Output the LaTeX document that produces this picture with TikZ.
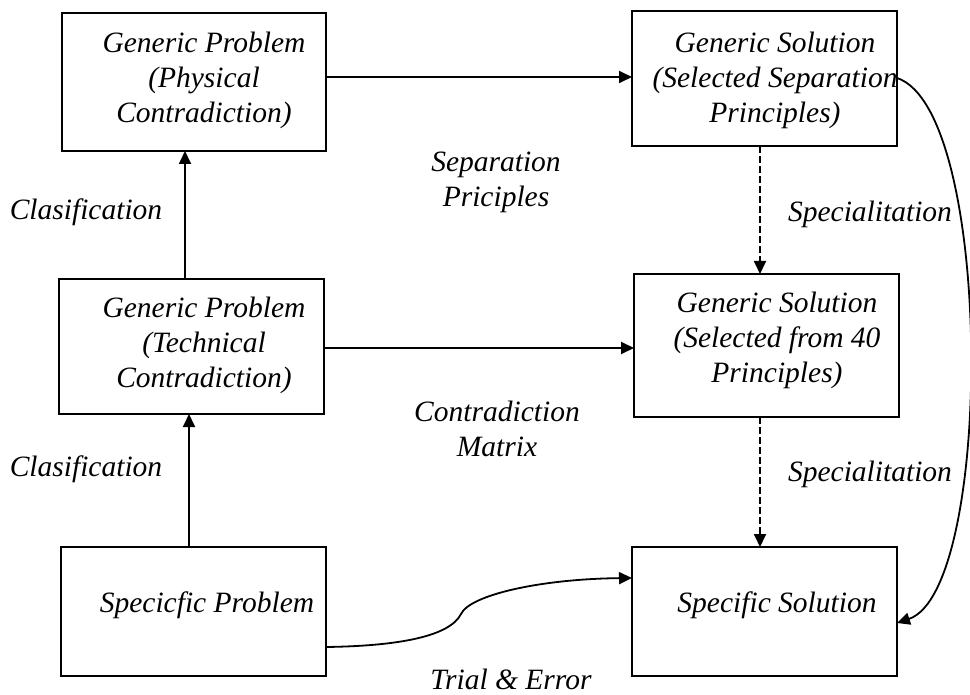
\documentclass[tikz,border=0pt]{standalone}
\usepackage{fontspec}
\setmainfont{Liberation Serif}
\usetikzlibrary{arrows.meta}
\begin{document}
\begin{tikzpicture}[x=1pt,y=-1pt,
  box/.style={draw, line width=2pt, rectangle, inner sep=0pt, outer sep=0pt},
  txt/.style={font=\fontsize{29.5pt}{35pt}\selectfont\itshape, align=center, inner sep=0pt},
  arr/.style={line width=1.8pt, -{Triangle[length=13pt,width=12pt]}},
  darr/.style={arr, dash pattern=on 7pt off 3pt}]
\useasboundingbox (0,0) rectangle (970,695);
% boxes
\node[box, minimum width=264pt, minimum height=138pt] (b1) at (194,82) {};
\node[box, minimum width=265pt, minimum height=135pt] (b2) at (764.5,78.5) {};
\node[box, minimum width=265pt, minimum height=135pt] (b3) at (191.5,346.5) {};
\node[box, minimum width=265pt, minimum height=143pt] (b4) at (766.5,345.5) {};
\node[box, minimum width=265pt, minimum height=129pt] (b5) at (193.5,611.5) {};
\node[box, minimum width=265pt, minimum height=129pt] (b6) at (764.5,611.5) {};
% box texts
\node[txt] (t1) at (204,80) {Generic Problem\\(Physical\\Contradiction)};
\node[txt] (t2) at (775,80) {Generic Solution\\(Selected Separation\\Principles)};
\node[txt] (t3) at (204,345) {Generic Problem\\(Technical\\Contradiction)};
\node[txt] (t4) at (777,340) {Generic Solution\\(Selected from 40\\Principles)};
\node[txt] (t5) at (207,605.5) {Specicfic Problem};
\node[txt] (t6) at (777,605.5) {Specific Solution};
% labels
\node[txt] (l1) at (496,182) {Separation\\Priciples};
\node[txt] (l2) at (497,429) {Contradiction\\Matrix};
\node[txt] (l3) at (86,212) {Clasification};
\node[txt] (l4) at (86,469) {Clasification};
\node[txt] (l5) at (870,214.5) {Specialitation};
\node[txt] (l6) at (870,474.5) {Specialitation};
\node[txt] (l7) at (511,679) {Trial \& Error};
% guide coordinates
\coordinate (ya) at (0,77);
\coordinate (yb) at (0,348);
\coordinate (xa) at (185,0);
\coordinate (xb) at (189,0);
\coordinate (xc) at (760,0);
\coordinate (yt1) at (0,647);
\coordinate (yt2) at (0,578);
\coordinate (ys) at (0,78);
\coordinate (ye) at (0,623);
% connectors
\draw[arr] (b1.east |- ya) -- (b2.west |- ya);
\draw[arr] (b3.east |- yb) -- (b4.west |- yb);
\draw[arr] (xa |- b3.north) -- (xa |- b1.south);
\draw[arr] (xb |- b5.north) -- (xb |- b3.south);
\draw[darr] (xc |- b2.south) -- (xc |- b4.north);
\draw[darr] (xc |- b4.south) -- (xc |- b6.north);
\draw[arr] (b5.east |- yt1) .. controls (400,646) and (450,636) .. (461,614)
  .. controls (470,595) and (540,579) .. (b6.west |- yt2);
\draw[arr] (b2.east |- ys) .. controls (994,110) and (994,590) .. (b6.east |- ye);
\end{tikzpicture}
\end{document}
